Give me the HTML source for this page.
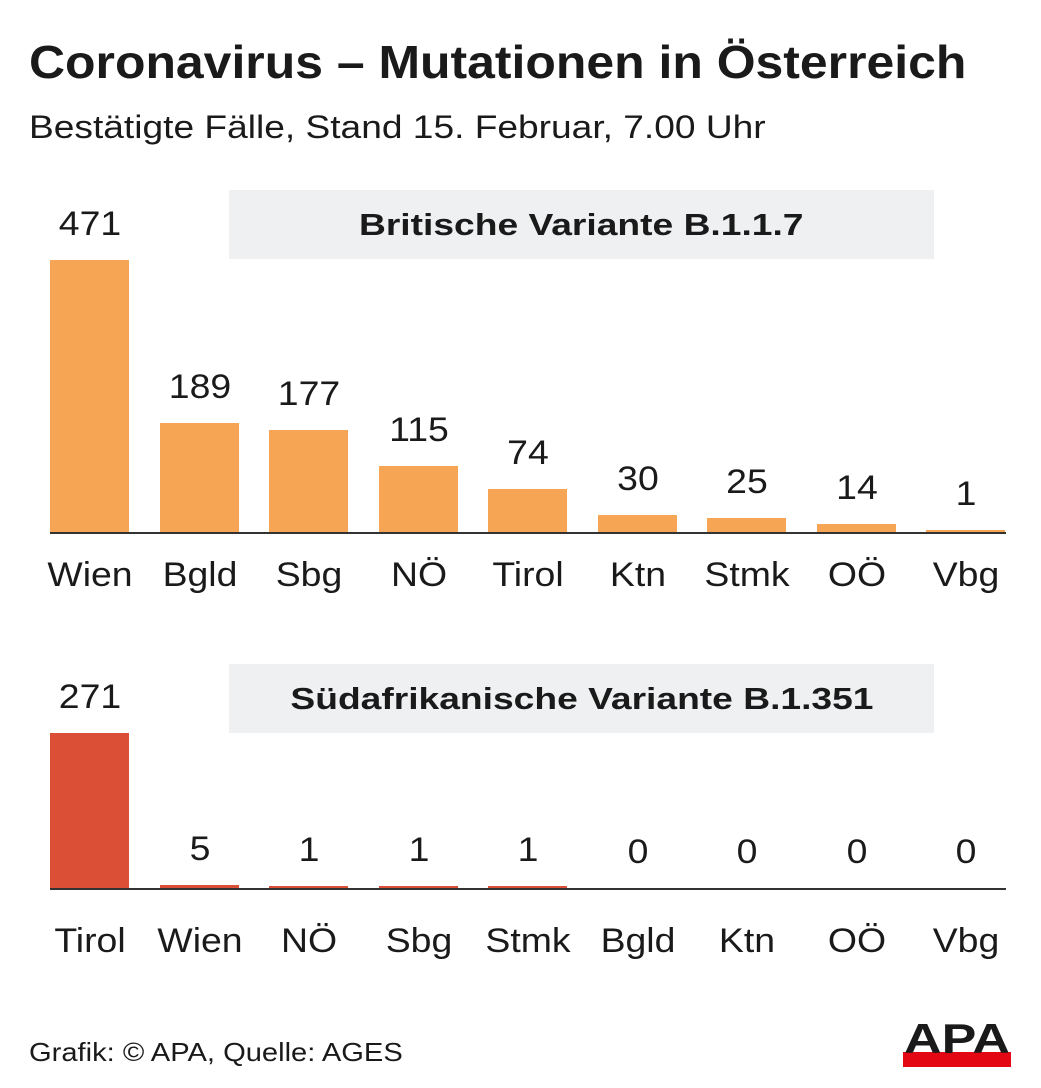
<!DOCTYPE html>
<html><head><meta charset="utf-8"><style>
body{margin:0;width:1041px;height:1088px;background:#fff;position:relative;overflow:hidden;font-family:"Liberation Sans",sans-serif;color:#1a1a1a}
.a{position:absolute;white-space:nowrap;transform-origin:0 0}
.bar{position:absolute;width:79px}
.v,.l{position:absolute;width:110px;text-align:center;font-size:34px;transform:scaleX(1.1)}
.box{position:absolute;left:229px;width:705px;height:69px;background:#eef0f1;font-weight:bold;font-size:31px;text-align:center;line-height:69px}
.box span{display:inline-block;transform:scaleX(1.2)}
.ax{position:absolute;left:50px;width:956px;height:2px;background:#333}
</style></head><body>
<div class="a" style="left:29px;top:35px;font-size:46px;font-weight:bold;transform:scaleX(1.085)">Coronavirus – Mutationen in Österreich</div>
<div class="a" style="left:29px;top:109px;font-size:32px;transform:scaleX(1.16)">Bestätigte Fälle, Stand 15. Februar, 7.00 Uhr</div>
<div class="box" style="top:190px"><span>Britische Variante B.1.1.7</span></div>
<div class="box" style="top:664px"><span>Südafrikanische Variante B.1.351</span></div>
<div class="ax" style="top:532px"></div>
<div class="ax" style="top:888px"></div>
<div id="c"></div>
<div class="a" style="left:29px;top:1037px;font-size:26px;transform:scaleX(1.12)">Grafik: © APA, Quelle: AGES</div>
<svg class="a" style="left:900px;top:1016px" width="115" height="54" viewBox="0 0 115 54">
<rect x="3" y="36" width="108" height="15" fill="#e30613"/>
<text x="57" y="37" font-family="Liberation Sans" font-weight="bold" font-size="42" text-anchor="middle" fill="#1a1a1a" textLength="106" lengthAdjust="spacingAndGlyphs">APA</text>
</svg>
<script>
var xs=[50,160,269,379,488,598,707,817,926];
var t=[["Wien",471],["Bgld",189],["Sbg",177],["NÖ",115],["Tirol",74],["Ktn",30],["Stmk",25],["OÖ",14],["Vbg",1]];
var b=[["Tirol",271],["Wien",5],["NÖ",1],["Sbg",1],["Stmk",1],["Bgld",0],["Ktn",0],["OÖ",0],["Vbg",0]];
var h="";
function draw(d,base,s,col,ly){d.forEach(function(e,i){var x=xs[i],ht=Math.max(e[1]*s,e[1]>0?2:0);
if(e[1]>0)h+='<div class="bar" style="left:'+x+'px;top:'+(base-ht)+'px;height:'+ht+'px;background:'+col+'"></div>';
h+='<div class="v" style="left:'+(x-15.5)+'px;top:'+(base-ht-55)+'px">'+e[1]+'</div>';
h+='<div class="l" style="left:'+(x-15.5)+'px;top:'+ly+'px">'+e[0]+'</div>';});}
draw(t,532,0.578,"#f5a553",556);
draw(b,888,0.572,"#dc4f37",922);
document.getElementById("c").innerHTML=h;
</script>
</body></html>
